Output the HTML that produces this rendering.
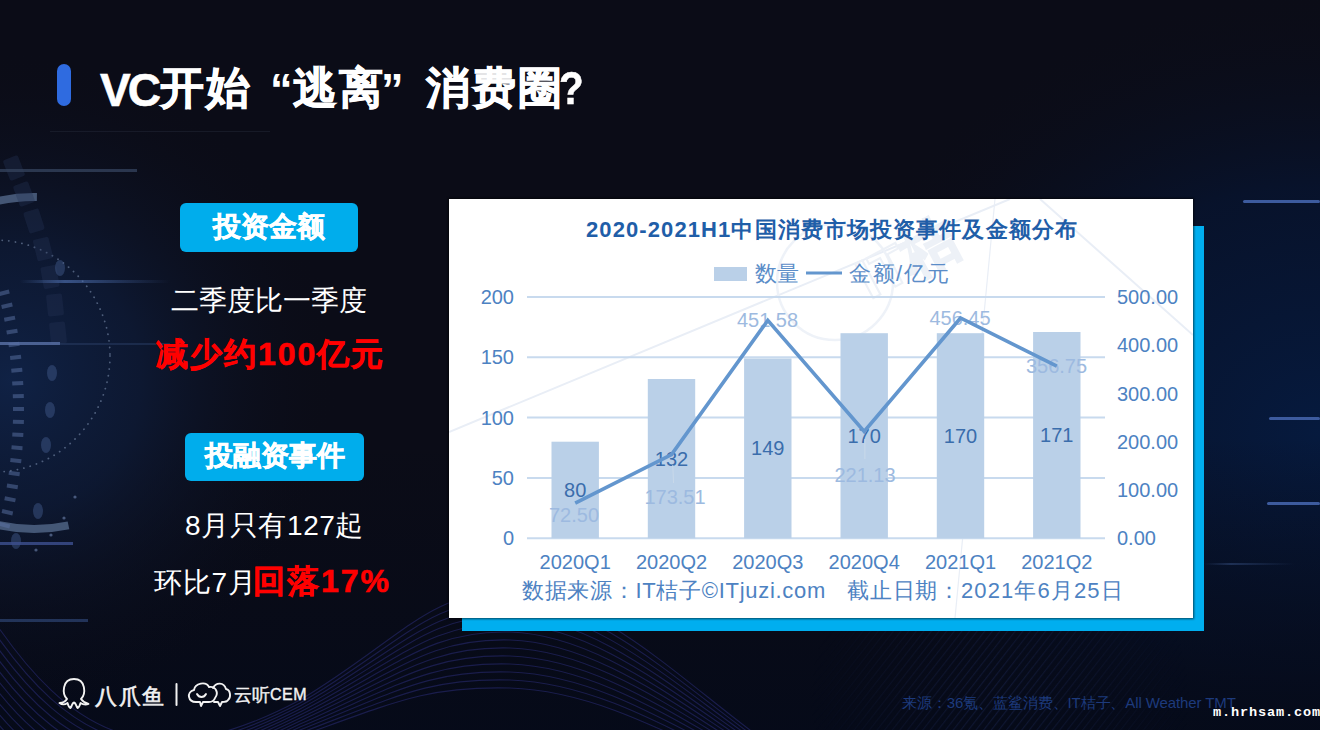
<!DOCTYPE html>
<html><head><meta charset="utf-8">
<style>
html,body{margin:0;padding:0;}
body{width:1320px;height:730px;position:relative;overflow:hidden;background:#0b0c17;font-family:"Liberation Sans",sans-serif;}
.abs{position:absolute;}
#bg{position:absolute;left:0;top:0;width:1320px;height:730px;}
.t{position:absolute;white-space:nowrap;line-height:1;}
</style></head><body>
<svg id="bg" width="1320" height="730" viewBox="0 0 1320 730">
  <defs>
    <radialGradient id="gL" cx="10" cy="380" r="330" gradientUnits="userSpaceOnUse">
      <stop offset="0" stop-color="#10244a" stop-opacity="0.9"/>
      <stop offset="0.4" stop-color="#0e1d3c" stop-opacity="0.7"/>
      <stop offset="1" stop-color="#0b0c17" stop-opacity="0"/>
    </radialGradient>
    <radialGradient id="gR" cx="1320" cy="430" r="520" gradientUnits="userSpaceOnUse" gradientTransform="translate(1320 430) scale(1 0.85) translate(-1320 -430)">
      <stop offset="0" stop-color="#061a3e"/>
      <stop offset="0.55" stop-color="#071430" stop-opacity="0.8"/>
      <stop offset="1" stop-color="#0b0c17" stop-opacity="0"/>
    </radialGradient>
    <linearGradient id="gB" x1="0" y1="0" x2="0" y2="1">
      <stop offset="0" stop-color="#0b0c17" stop-opacity="0"/>
      <stop offset="0.6" stop-color="#060a18" stop-opacity="0"/>
      <stop offset="1" stop-color="#050a19" stop-opacity="0.9"/>
    </linearGradient>
    <linearGradient id="hl" x1="0" y1="0" x2="1" y2="0">
      <stop offset="0" stop-color="#4a6aa8" stop-opacity="0"/>
      <stop offset="0.3" stop-color="#4a6aa8" stop-opacity="0.7"/>
      <stop offset="1" stop-color="#4a6aa8" stop-opacity="0"/>
    </linearGradient>
  </defs>
  <rect width="1320" height="730" fill="#0b0c17"/>
  <rect width="1320" height="730" fill="url(#gR)"/>
  <rect width="1320" height="730" fill="url(#gB)"/>
  <rect width="1320" height="730" fill="url(#gL)"/>
<path d="M-6.2,201.9 A166,166 0 0 1 36.9,197.0" fill="none" stroke="#52688a" stroke-opacity="0.8" stroke-width="8"/>
<path d="M68.5,525.4 A166,166 0 0 1 -3.3,524.7" fill="none" stroke="#52688a" stroke-opacity="0.8" stroke-width="8"/>
<circle cx="-6" cy="356" r="116" fill="none" stroke="#8ea2c2" stroke-opacity="0.5" stroke-width="1.8" stroke-dasharray="0.1 6.5" stroke-linecap="round"/>
<rect x="-1.7" y="290.0" width="11" height="4" fill="#5b74a6" fill-opacity="0.5" transform="rotate(-14.2 7.3 292.0)"/>
<rect x="1.4" y="303.0" width="11" height="4" fill="#5b74a6" fill-opacity="0.5" transform="rotate(-12.6 10.4 305.0)"/>
<rect x="4.1" y="316.0" width="11" height="4" fill="#5b74a6" fill-opacity="0.5" transform="rotate(-11.0 13.1 318.0)"/>
<rect x="6.5" y="329.0" width="11" height="4" fill="#5b74a6" fill-opacity="0.5" transform="rotate(-9.5 15.5 331.0)"/>
<rect x="8.5" y="342.0" width="11" height="4" fill="#5b74a6" fill-opacity="0.5" transform="rotate(-7.9 17.5 344.0)"/>
<rect x="10.1" y="355.0" width="11" height="4" fill="#5b74a6" fill-opacity="0.5" transform="rotate(-6.3 19.1 357.0)"/>
<rect x="11.3" y="368.0" width="11" height="4" fill="#5b74a6" fill-opacity="0.5" transform="rotate(-4.8 20.3 370.0)"/>
<rect x="12.2" y="381.0" width="11" height="4" fill="#5b74a6" fill-opacity="0.5" transform="rotate(-3.2 21.2 383.0)"/>
<rect x="12.8" y="394.0" width="11" height="4" fill="#5b74a6" fill-opacity="0.5" transform="rotate(-1.7 21.8 396.0)"/>
<rect x="13.0" y="407.0" width="11" height="4" fill="#5b74a6" fill-opacity="0.5" transform="rotate(-0.1 22.0 409.0)"/>
<rect x="12.9" y="420.0" width="11" height="4" fill="#5b74a6" fill-opacity="0.5" transform="rotate(1.4 21.9 422.0)"/>
<rect x="12.3" y="433.0" width="11" height="4" fill="#5b74a6" fill-opacity="0.5" transform="rotate(3.0 21.3 435.0)"/>
<rect x="11.5" y="446.0" width="11" height="4" fill="#5b74a6" fill-opacity="0.5" transform="rotate(4.5 20.5 448.0)"/>
<rect x="10.3" y="459.0" width="11" height="4" fill="#5b74a6" fill-opacity="0.5" transform="rotate(6.1 19.3 461.0)"/>
<rect x="8.7" y="472.0" width="11" height="4" fill="#5b74a6" fill-opacity="0.5" transform="rotate(7.6 17.7 474.0)"/>
<rect x="6.8" y="485.0" width="11" height="4" fill="#5b74a6" fill-opacity="0.5" transform="rotate(9.2 15.8 487.0)"/>
<rect x="4.5" y="498.0" width="11" height="4" fill="#5b74a6" fill-opacity="0.5" transform="rotate(10.8 13.5 500.0)"/>
<rect x="1.8" y="511.0" width="11" height="4" fill="#5b74a6" fill-opacity="0.5" transform="rotate(12.4 10.8 513.0)"/>
<rect x="-1.2" y="524.0" width="11" height="4" fill="#5b74a6" fill-opacity="0.5" transform="rotate(14.0 7.8 526.0)"/>
<rect x="6" y="157" width="16" height="22" rx="2" fill="#243556" fill-opacity="0.35" transform="rotate(-21.0 14 168)"/>
<rect x="16" y="183" width="16" height="22" rx="2" fill="#243556" fill-opacity="0.35" transform="rotate(-20.3 24 194)"/>
<rect x="26" y="210" width="16" height="22" rx="2" fill="#243556" fill-opacity="0.35" transform="rotate(-17.8 34 221)"/>
<rect x="35" y="238" width="16" height="22" rx="2" fill="#243556" fill-opacity="0.35" transform="rotate(-14.0 43 249)"/>
<rect x="42" y="266" width="16" height="22" rx="2" fill="#243556" fill-opacity="0.35" transform="rotate(-10.1 50 277)"/>
<rect x="47" y="294" width="16" height="22" rx="2" fill="#243556" fill-opacity="0.35" transform="rotate(-6.1 55 305)"/>
<rect x="50" y="322" width="16" height="22" rx="2" fill="#243556" fill-opacity="0.35" transform="rotate(-6.1 58 333)"/>
<ellipse cx="52" cy="373" rx="5" ry="8" fill="#3e5686" fill-opacity="0.5"/>
<ellipse cx="50" cy="410" rx="5" ry="8" fill="#3e5686" fill-opacity="0.5"/>
<ellipse cx="46" cy="445" rx="5" ry="8" fill="#3e5686" fill-opacity="0.5"/>
<ellipse cx="38" cy="511" rx="5" ry="8" fill="#3e5686" fill-opacity="0.5"/>
<ellipse cx="16" cy="541" rx="5" ry="8" fill="#3e5686" fill-opacity="0.5"/>
<ellipse cx="60" cy="268" rx="5" ry="8" fill="#3e5686" fill-opacity="0.5"/>
<circle cx="75" cy="497" r="1.6" fill="#6f86b0" fill-opacity="0.6"/>
<circle cx="64" cy="518" r="1.6" fill="#6f86b0" fill-opacity="0.6"/>
<circle cx="51" cy="535" r="1.6" fill="#6f86b0" fill-opacity="0.6"/>
<circle cx="36" cy="550" r="1.6" fill="#6f86b0" fill-opacity="0.6"/>
<rect x="0" y="169" width="137" height="3" fill="#36445f" fill-opacity="0.75"/>
<rect x="50" y="131" width="220" height="1" fill="#232838" fill-opacity="0.5"/>
<rect x="20" y="280" width="150" height="3" fill="url(#hl)"/>
<rect x="0" y="342" width="60" height="3" fill="#5a72a8" fill-opacity="0.8"/>
<rect x="60" y="343" width="110" height="2" fill="#2a3d66" fill-opacity="0.5"/>
<rect x="0" y="542" width="73" height="3" fill="#3d5090" fill-opacity="0.8"/>
<rect x="0" y="619" width="88" height="3" fill="#2e4474" fill-opacity="0.7"/>
<rect x="1243" y="200" width="77" height="3" rx="1.5" fill="#3d5b9e"/>
<rect x="1269" y="417" width="51" height="3" rx="1.5" fill="#3d5b9e"/>
<path d="M-10,615 C70,735 150,780 300,700 C400,640 430,590 510,592 C600,595 680,680 770,745" fill="none" stroke="#2e3080" stroke-opacity="0.5" stroke-width="1.1"/>
<path d="M-10,626 C70,744 150,782 300,703 C400,645 430,598 510,600 C600,603 680,685 770,748" fill="none" stroke="#2e3080" stroke-opacity="0.5" stroke-width="1.1"/>
<path d="M-10,637 C70,753 150,784 300,706 C400,650 430,606 510,608 C600,611 680,690 770,751" fill="none" stroke="#2e3080" stroke-opacity="0.5" stroke-width="1.1"/>
<path d="M-10,648 C70,762 150,786 300,709 C400,655 430,614 510,616 C600,619 680,695 770,754" fill="none" stroke="#2e3080" stroke-opacity="0.5" stroke-width="1.1"/>
<path d="M-10,659 C70,771 150,788 300,712 C400,660 430,622 510,624 C600,627 680,700 770,757" fill="none" stroke="#2e3080" stroke-opacity="0.5" stroke-width="1.1"/>
<path d="M-10,670 C70,780 150,790 300,715 C400,665 430,630 510,632 C600,635 680,705 770,760" fill="none" stroke="#2e3080" stroke-opacity="0.5" stroke-width="1.1"/>
<path d="M-10,681 C70,789 150,792 300,718 C400,670 430,638 510,640 C600,643 680,710 770,763" fill="none" stroke="#2e3080" stroke-opacity="0.5" stroke-width="1.1"/>
<path d="M-10,692 C70,798 150,794 300,721 C400,675 430,646 510,648 C600,651 680,715 770,766" fill="none" stroke="#2e3080" stroke-opacity="0.5" stroke-width="1.1"/>
<path d="M-10,703 C70,807 150,796 300,724 C400,680 430,654 510,656 C600,659 680,720 770,769" fill="none" stroke="#2e3080" stroke-opacity="0.5" stroke-width="1.1"/>
<path d="M-10,714 C70,816 150,798 300,727 C400,685 430,662 510,664 C600,667 680,725 770,772" fill="none" stroke="#2e3080" stroke-opacity="0.5" stroke-width="1.1"/>
<path d="M-10,725 C70,825 150,800 300,730 C400,690 430,670 510,672 C600,675 680,730 770,775" fill="none" stroke="#2e3080" stroke-opacity="0.5" stroke-width="1.1"/>
<path d="M-10,736 C70,834 150,802 300,733 C400,695 430,678 510,680 C600,683 680,735 770,778" fill="none" stroke="#2e3080" stroke-opacity="0.5" stroke-width="1.1"/>
<path d="M-10,747 C70,843 150,804 300,736 C400,700 430,686 510,688 C600,691 680,740 770,781" fill="none" stroke="#2e3080" stroke-opacity="0.5" stroke-width="1.1"/>
<rect x="1267" y="502" width="53" height="3" rx="1.5" fill="#3d5b9e"/>
<rect x="1204" y="563" width="90" height="2" fill="url(#hl)" opacity="0.5"/>
<defs><pattern id="stp" width="6" height="6" patternUnits="userSpaceOnUse" patternTransform="rotate(38)"><rect width="1.2" height="6" fill="#26346e"/></pattern>
<radialGradient id="stm" cx="1000" cy="700" r="190" gradientUnits="userSpaceOnUse"><stop offset="0" stop-color="#fff" stop-opacity="0.35"/><stop offset="1" stop-color="#fff" stop-opacity="0"/></radialGradient>
<mask id="stmask"><rect x="800" y="600" width="520" height="130" fill="url(#stm)"/></mask></defs>
<rect x="800" y="600" width="520" height="130" fill="url(#stp)" mask="url(#stmask)"/>
</svg>

<!-- title -->
<div class="abs" style="left:57px;top:64px;width:14px;height:42px;border-radius:7px;background:#2f6be0"></div>
<div class="t" style="left:100px;top:67px;font-size:46px;font-weight:bold;letter-spacing:-3px;color:#fff;-webkit-text-stroke:0.6px #fff">VC</div>
<div class="t" style="left:160px;top:66px;font-size:44px;font-weight:bold;color:#fff;letter-spacing:2px;-webkit-text-stroke:0.8px #fff">开始</div>
<div class="t" style="left:270px;top:67px;font-size:45px;font-weight:bold;color:#fff">“</div>
<div class="t" style="left:293px;top:66px;font-size:44px;font-weight:bold;color:#fff;letter-spacing:2px;-webkit-text-stroke:0.8px #fff">逃离</div>
<div class="t" style="left:381px;top:67px;font-size:45px;font-weight:bold;color:#fff">”</div>
<div class="t" style="left:426px;top:66px;font-size:44px;font-weight:bold;color:#fff;letter-spacing:2px;-webkit-text-stroke:0.8px #fff">消费圈</div>
<div class="t" style="left:559px;top:65px;font-size:46px;font-weight:bold;color:#fff;transform:scaleX(0.88);transform-origin:0 0;-webkit-text-stroke:0.5px #fff">?</div>

<!-- left panel -->
<div class="abs" style="left:180px;top:203px;width:178px;height:49px;border-radius:6px;background:#00adec"></div>
<div class="t" style="left:180px;top:213px;width:178px;text-align:center;font-size:28px;font-weight:bold;color:#fff;-webkit-text-stroke:0.5px #fff">投资金额</div>
<div class="t" style="left:171px;top:287px;font-size:28px;color:#fff">二季度比一季度</div>
<div class="t" style="left:156px;top:338px;font-size:32px;font-weight:bold;color:#f00;letter-spacing:2px;-webkit-text-stroke:0.6px #f00">减少约100亿元</div>

<div class="abs" style="left:185px;top:433px;width:179px;height:48px;border-radius:6px;background:#00adec"></div>
<div class="t" style="left:185px;top:442px;width:179px;text-align:center;font-size:28px;font-weight:bold;color:#fff;-webkit-text-stroke:0.5px #fff">投融资事件</div>
<div class="t" style="left:185px;top:512px;font-size:28px;color:#fff;letter-spacing:0.6px">8月只有127起</div>
<div class="t" style="left:154px;top:569px;font-size:28px;color:#fff;letter-spacing:0.8px">环比7月</div>
<div class="t" style="left:253px;top:565px;font-size:32px;font-weight:bold;color:#f00;letter-spacing:2px;-webkit-text-stroke:0.6px #f00">回落17%</div>

<!-- chart -->
<div class="abs" style="left:462px;top:226px;width:742px;height:405px;background:#00aeef"></div>
<div class="abs" style="left:448px;top:198px;width:746px;height:421px;background:#000;opacity:0.6;filter:blur(1px)"></div>
<svg class="abs" style="left:449px;top:199px" width="744" height="419" viewBox="449 199 744 419">
<style>
.ax{font-family:"Liberation Sans",sans-serif;font-size:20px;fill:#4d82c2}
.bv{font-family:"Liberation Sans",sans-serif;font-size:20px;fill:#3a6dac}
.av{font-family:"Liberation Sans",sans-serif;font-size:20px;fill:#9dbae0}
.ct{font-family:"Liberation Sans",sans-serif;font-size:22px;font-weight:bold;fill:#1f5ea8;letter-spacing:1.1px}
.lg{font-family:"Liberation Sans",sans-serif;font-size:22px;fill:#5b8dc8}
.src{font-family:"Liberation Sans",sans-serif;font-size:22px;fill:#4d82c2;letter-spacing:1px}
</style>
<rect x="449" y="199" width="744" height="419" fill="#fff"/>
<g fill="none" stroke="#e9eef6" stroke-width="2">
<line x1="449" y1="432" x2="1010" y2="199"/>
<line x1="1040" y1="199" x2="1193" y2="335"/>
<circle cx="835" cy="282" r="58" stroke-width="2.5" stroke="#eef2f8"/>
<line x1="995" y1="199" x2="955" y2="618" stroke-width="1.2"/>
</g>
<text x="0" y="0" transform="translate(870 300) rotate(-28)" font-family="Liberation Sans, sans-serif" font-size="56" font-weight="bold" fill="none" stroke="#edf1f7" stroke-width="2">IT桔</text>
<text x="586" y="237" class="ct">2020-2021H1中国消费市场投资事件及金额分布</text>
<rect x="714" y="267" width="33" height="14" fill="#bad0e8"/>
<text x="755" y="281" class="lg">数量</text>
<line x1="806" y1="273" x2="842" y2="273" stroke="#6396ce" stroke-width="3"/>
<text x="849" y="281" class="lg" style="letter-spacing:1.5px">金额/亿元</text>
<line x1="527" y1="538.2" x2="1105" y2="538.2" stroke="#c8daee" stroke-width="2"/>
<line x1="527" y1="477.9" x2="1105" y2="477.9" stroke="#c8daee" stroke-width="2"/>
<line x1="527" y1="417.6" x2="1105" y2="417.6" stroke="#c8daee" stroke-width="2"/>
<line x1="527" y1="357.3" x2="1105" y2="357.3" stroke="#c8daee" stroke-width="2"/>
<line x1="527" y1="297.0" x2="1105" y2="297.0" stroke="#c8daee" stroke-width="2"/>
<text x="514" y="545.2" text-anchor="end" class="ax">0</text>
<text x="514" y="484.9" text-anchor="end" class="ax">50</text>
<text x="514" y="424.6" text-anchor="end" class="ax">100</text>
<text x="514" y="364.3" text-anchor="end" class="ax">150</text>
<text x="514" y="304.0" text-anchor="end" class="ax">200</text>
<text x="1117" y="545.2" class="ax">0.00</text>
<text x="1117" y="497.0" class="ax">100.00</text>
<text x="1117" y="448.7" class="ax">200.00</text>
<text x="1117" y="400.5" class="ax">300.00</text>
<text x="1117" y="352.2" class="ax">400.00</text>
<text x="1117" y="304.0" class="ax">500.00</text>
<rect x="551.5" y="441.7" width="47.4" height="96.5" fill="#bad0e8"/>
<rect x="647.8" y="379.0" width="47.4" height="159.2" fill="#bad0e8"/>
<rect x="744.1" y="358.5" width="47.4" height="179.7" fill="#bad0e8"/>
<rect x="840.5" y="333.2" width="47.4" height="205.0" fill="#bad0e8"/>
<rect x="936.8" y="333.2" width="47.4" height="205.0" fill="#bad0e8"/>
<rect x="1033.1" y="332.0" width="47.4" height="206.2" fill="#bad0e8"/>
<text x="575.2" y="569" text-anchor="middle" class="ax">2020Q1</text>
<text x="671.5" y="569" text-anchor="middle" class="ax">2020Q2</text>
<text x="767.8" y="569" text-anchor="middle" class="ax">2020Q3</text>
<text x="864.2" y="569" text-anchor="middle" class="ax">2020Q4</text>
<text x="960.5" y="569" text-anchor="middle" class="ax">2021Q1</text>
<text x="1056.8" y="569" text-anchor="middle" class="ax">2021Q2</text>
<text x="575.2" y="497.0" text-anchor="middle" class="bv">80</text>
<text x="671.5" y="465.6" text-anchor="middle" class="bv">132</text>
<text x="767.8" y="455.4" text-anchor="middle" class="bv">149</text>
<text x="864.2" y="442.7" text-anchor="middle" class="bv">170</text>
<text x="960.5" y="442.7" text-anchor="middle" class="bv">170</text>
<text x="1056.8" y="442.1" text-anchor="middle" class="bv">171</text>
<line x1="672.8" y1="465" x2="673.5" y2="483" stroke="#c9d9ea" stroke-width="1"/>
<line x1="864.9" y1="439" x2="864.9" y2="459" stroke="#c9d9ea" stroke-width="1"/>
<text x="574" y="521.6" text-anchor="middle" class="av">72.50</text>
<text x="675" y="504" text-anchor="middle" class="av">173.51</text>
<text x="767.5" y="327" text-anchor="middle" class="av">451.58</text>
<text x="865" y="481.5" text-anchor="middle" class="av">221.13</text>
<text x="960" y="325" text-anchor="middle" class="av">456.45</text>
<text x="1056.5" y="373" text-anchor="middle" class="av">356.75</text>
<polyline points="575.2,503.2 671.5,454.5 767.8,320.4 864.2,431.5 960.5,318.0 1056.8,366.1" fill="none" stroke="#6396ce" stroke-width="3.6" stroke-linejoin="miter"/>
<text x="522" y="598" class="src" style="letter-spacing:0.7px">数据来源：IT桔子©ITjuzi.com</text><text x="847" y="598" class="src" style="letter-spacing:0.8px">截止日期：</text><text x="961" y="598" class="src" style="letter-spacing:1.1px">2021年6月25日</text>
</svg>
<!-- footer -->
<svg class="abs" style="left:0;top:660px" width="330" height="60" viewBox="0 660 330 60">
<g fill="none" stroke="#f2f2f2" stroke-width="1.9" stroke-linejoin="round" stroke-linecap="round">
<path d="M67,699 C62,694 62,679 74,679 C86,679 86,694 81,699 C83,702 85,703 88.5,704 C85,705.5 82,704 80.5,703 C80,705 79,707.5 77.5,708 C76,706 76,703 74,702.5 C72,703 72,706 70.5,708 C69,707.5 68,705 67.5,703 C66,704 63,705.5 59.5,703 C63,703 65,702 67,699 Z"/>
<path d="M176.5,684 L176.5,705" stroke-width="2"/>
<path d="M196,702 C188,702 186,692 194,690 C195,683 206,681 209,687 C216,686 219,693 215,698 C214,701 212,702 209,702 L203,702 L201,706 L200,702 Z"/>
<path d="M213,688 C216,682 224,682 226,689 C231,690 231,698 228,700 C227,702 225,702 222,702 L220,706 L218,702 L214,702"/>
<path d="M197,694 C199,698 204,698 206,694"/>
</g>
<text x="95" y="704" font-family="Liberation Sans, sans-serif" font-size="22" fill="#f2f2f2" stroke="#f2f2f2" stroke-width="0.6" letter-spacing="1.5">八爪鱼</text>
<text x="234" y="701" font-family="Liberation Sans, sans-serif" font-size="18" fill="#f2f2f2" stroke="#f2f2f2" stroke-width="0.4">云听</text>
<text x="270" y="700" font-family="Liberation Sans, sans-serif" font-size="16" fill="#f2f2f2" stroke="#f2f2f2" stroke-width="0.4" letter-spacing="0.5">CEM</text>
</svg>
<div class="t" style="left:902px;top:695px;font-size:15px;color:#1d3a7c;letter-spacing:-0.1px">来源：36氪、蓝鲨消费、IT桔子、All Weather TMT</div>
<div class="t" style="left:1213px;top:706px;font-family:'Liberation Mono',monospace;font-size:13.6px;letter-spacing:0.85px;font-weight:bold;color:#fff">m.hrhsam.com</div>
</body></html>
